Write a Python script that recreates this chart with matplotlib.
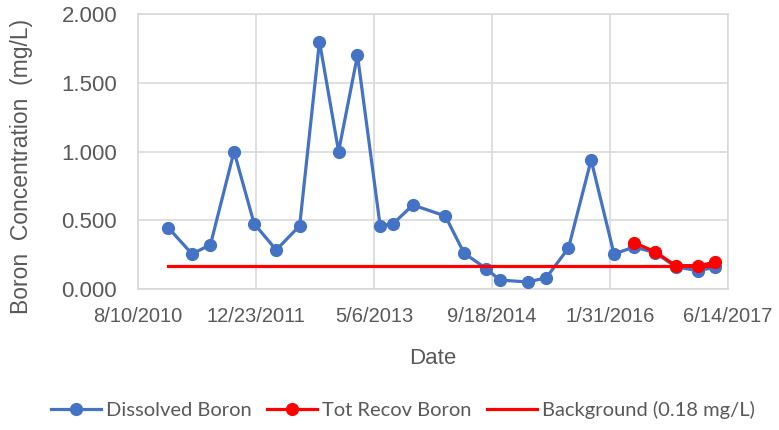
import matplotlib
matplotlib.use("Agg")
import matplotlib.pyplot as plt
import matplotlib.dates as mdates
import numpy as np
import datetime as dt

# ---- data ----
dissolved_dates = ["2010-12-16", "2011-03-27", "2011-06-13", "2011-09-21", "2011-12-15",
                   "2012-03-18", "2012-06-25", "2012-09-17", "2012-12-07", "2013-02-25",
                   "2013-06-01", "2013-07-26", "2013-10-18", "2014-03-04", "2014-05-23",
                   "2014-08-25", "2014-10-21", "2015-02-17", "2015-05-06", "2015-08-08",
                   "2015-11-12", "2016-02-17", "2016-05-12", "2016-08-09", "2016-11-04",
                   "2017-02-06", "2017-04-21"]
dissolved_vals = [0.446, 0.255, 0.322, 1.000, 0.475,
                  0.284, 0.460, 1.800, 1.000, 1.700,
                  0.460, 0.475, 0.611, 0.531, 0.260,
                  0.148, 0.065, 0.051, 0.082, 0.298,
                  0.938, 0.255, 0.305, 0.265, 0.162,
                  0.133, 0.158]

totrecov_dates = ["2016-05-12", "2016-08-09", "2016-11-04", "2017-02-06", "2017-04-21"]
totrecov_vals = [0.337, 0.271, 0.170, 0.170, 0.194]

background_dates = ["2010-12-16", "2017-04-21"]
background_vals = [0.17, 0.17]

xtick_dates = ["2010-08-10", "2011-12-23", "2013-05-06", "2014-09-18", "2016-01-31", "2017-06-14"]
xtick_labels = ["8/10/2010", "12/23/2011", "5/6/2013", "9/18/2014", "1/31/2016", "6/14/2017"]
yticks = [0.0, 0.5, 1.0, 1.5, 2.0]

series_names = ["Dissolved Boron", "Tot Recov Boron", "Background (0.18 mg/L)"]

# ---- plotting ----
def to_num(lst):
    return mdates.date2num([dt.datetime.strptime(s, "%Y-%m-%d") for s in lst])

TXT = "#595959"
GRID = "#d9d9d9"
BLUE = "#4472C4"
RED = "#FF0000"

fig = plt.figure(figsize=(7.79, 4.30), dpi=100)
ax = fig.add_axes([138/779, 1 - 289/430, (728-138)/779, (289-14)/430])

ax.plot(to_num(dissolved_dates), dissolved_vals, color=BLUE, lw=2.3, marker="o",
        ms=8.5, label=series_names[0], zorder=3)
ax.plot(to_num(totrecov_dates), totrecov_vals, color=RED, lw=2.3, marker="o",
        ms=8.5, label=series_names[1], zorder=4)
ax.plot(to_num(background_dates), background_vals, color=RED, lw=2.3,
        label=series_names[2], zorder=5)

xt = to_num(xtick_dates)
ax.set_xlim(xt[0], xt[-1])
ax.set_ylim(0, 2.0)
ax.set_xticks(xt)
ax.set_xticklabels(xtick_labels)
ax.set_yticks(yticks)
ax.set_yticklabels([f"{v:.3f}" for v in yticks])

ax.grid(True, color=GRID, lw=1.2, zorder=0)
ax.set_axisbelow(True)
for s in ax.spines.values():
    s.set_color(GRID)
    s.set_linewidth(1.2)
ax.tick_params(axis="both", length=0, colors=TXT)
ax.tick_params(axis="y", pad=15, labelsize=16)
ax.tick_params(axis="x", pad=13, labelsize=14.5)
for lab in ax.get_xticklabels() + ax.get_yticklabels():
    lab.set_family("Liberation Sans")

ax.set_xlabel("Date", fontsize=16, color=TXT, family="Liberation Sans")
ax.xaxis.set_label_coords(0.5, -0.215)
ax.set_ylabel("Boron  Concentration  (mg/L)", fontsize=16.5, color=TXT,
              family="Liberation Sans")
ax.yaxis.set_label_coords(-0.178, 0.447)

leg = fig.legend(loc="center", bbox_to_anchor=(403/779, 1 - 410/430), ncol=3, frameon=False,
                 prop={"family": "Lato", "size": 14.5}, handlelength=2.5,
                 handletextpad=0.25, columnspacing=0.75, borderaxespad=0)
for t in leg.get_texts():
    t.set_color(TXT)

fig.savefig("out.png", dpi=100)
